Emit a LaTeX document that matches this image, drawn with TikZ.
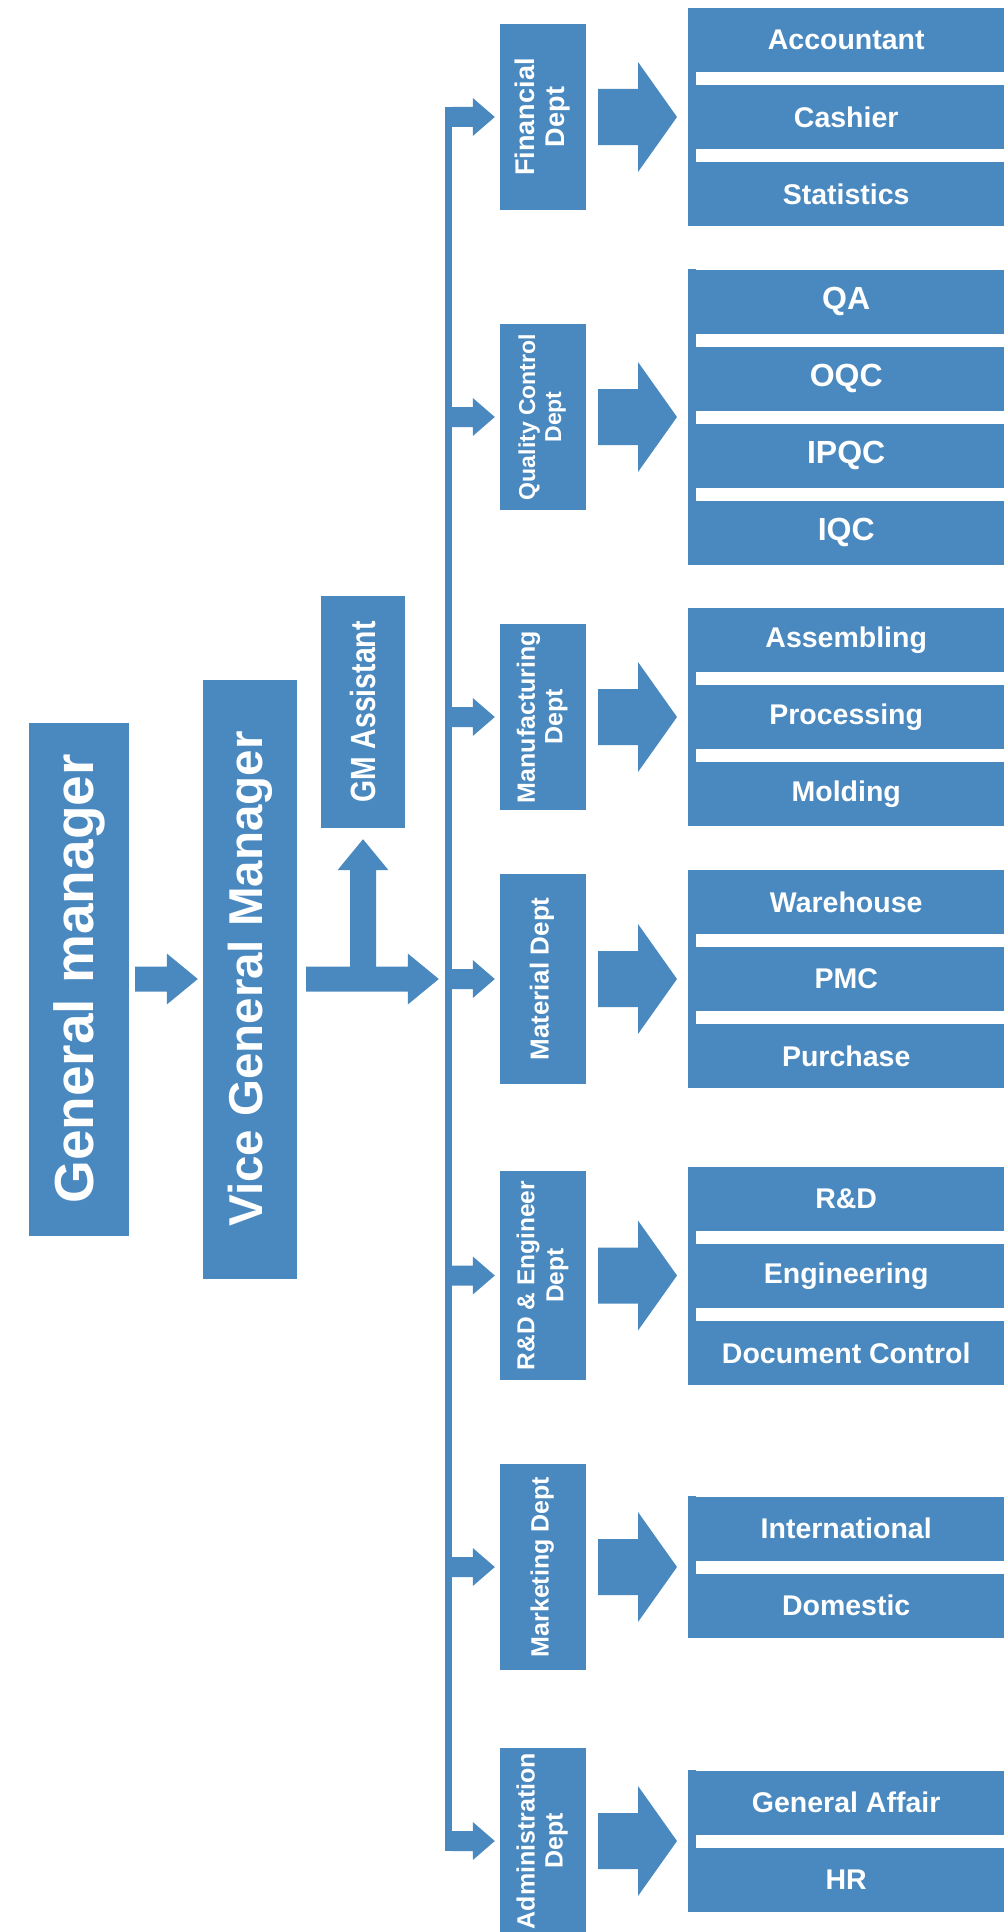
\documentclass[tikz,border=0pt]{standalone}
\usepackage{fontspec}
\setmainfont{Liberation Sans}
\usepackage{graphicx}
\usetikzlibrary{calc}
\definecolor{org}{RGB}{74,137,191}
\tikzset{
  blockbox/.style={fill=org, text=white, inner sep=0pt, font=\bfseries},
  deptbox/.style={blockbox, minimum width=86pt},
  subrow/.style={fill=org, text=white, inner sep=0pt, minimum width=316pt,
    minimum height=64pt, anchor=west, font=\bfseries\fontsize{28.5}{30}\selectfont},
  subrowbig/.style={subrow, font=\bfseries\fontsize{32}{34}\selectfont},
}
% horizontal block arrow: start, tip, shaft half width, head half width, head length
\newcommand\rarrow[5]{\fill[org] let \p1=#1, \p2=#2 in
  (\x1,\y2+#3pt) -- (\x2-#5pt,\y2+#3pt) -- (\x2-#5pt,\y2+#4pt) -- (\x2,\y2)
  -- (\x2-#5pt,\y2-#4pt) -- (\x2-#5pt,\y2-#3pt) -- (\x1,\y2-#3pt) -- cycle;}
% vertical (upward) block arrow
\newcommand\uarrow[5]{\fill[org] let \p1=#1, \p2=#2 in
  (\x2-#3pt,\y1) -- (\x2-#3pt,\y2-#5pt) -- (\x2-#4pt,\y2-#5pt) -- (\x2,\y2)
  -- (\x2+#4pt,\y2-#5pt) -- (\x2+#3pt,\y2-#5pt) -- (\x2+#3pt,\y1) -- cycle;}
\newcommand\vlabel[1]{\rotatebox{90}{\begin{tabular}{@{}c@{}}#1\end{tabular}}}
\begin{document}
\begin{tikzpicture}[x=1pt,y=-1pt]
\useasboundingbox (0,0) rectangle (1004,1932);

% top level
\node[blockbox, minimum width=100pt, minimum height=513pt] (gm) at (79,979)
  {\fontsize{55}{60}\selectfont\rotatebox{90}{General manager}};
\node[blockbox, minimum width=94pt, minimum height=599pt] (vgm) at (250,979)
  {\fontsize{47.5}{52}\selectfont\rotatebox{90}{Vice General Manager}};
\node[blockbox, minimum width=84pt, minimum height=232pt] (gma) at (363,712)
  {\fontsize{35}{38}\selectfont\rotatebox{90}{\scalebox{0.81}[1]{GM Assistant}}};

% bus
\node[fill=org, inner sep=0pt, minimum width=7pt, minimum height=1744pt] (bus) at (448.5,979) {};

% departments
\node[deptbox, minimum height=186pt] (fin) at (543,117)
  {\fontsize{27}{30}\selectfont\vlabel{Financial\\Dept}};
\node[deptbox, minimum height=186pt] (qc) at (543,417)
  {\fontsize{23}{26}\selectfont\vlabel{Quality Control\\Dept}};
\node[deptbox, minimum height=186pt] (mfg) at (543,717)
  {\fontsize{25}{27.5}\selectfont\vlabel{Manufacturing\\Dept}};
\node[deptbox, minimum height=210pt] (mat) at (543,979)
  {\fontsize{26}{28}\selectfont\vlabel{Material Dept}};
\node[deptbox, minimum height=209pt] (rnd) at (543,1275.5)
  {\fontsize{24.5}{29}\selectfont\vlabel{R\&D \& Engineer\\Dept}};
\node[deptbox, minimum height=206pt] (mkt) at (543,1567)
  {\fontsize{25}{28}\selectfont\vlabel{Marketing Dept}};
\node[deptbox, minimum height=186pt] (adm) at (543,1841)
  {\fontsize{25}{28}\selectfont\vlabel{Administration\\Dept}};

% sub units
\node[subrow] (fin1) at (688,40) {Accountant};
\node[subrow] (fin2) at (688,117) {Cashier};
\node[subrow] (fin3) at (688,194) {Statistics};

\node[subrowbig] (qc1) at (688,301.5) {QA};
\node[subrowbig] (qc2) at (688,378.5) {OQC};
\node[subrowbig] (qc3) at (688,455.5) {IPQC};
\node[subrowbig] (qc4) at (688,532.5) {IQC};

\node[subrow] (mfg1) at (688,640) {Assembling};
\node[subrow] (mfg2) at (688,717) {Processing};
\node[subrow] (mfg3) at (688,794) {Molding};

\node[subrow] (mat1) at (688,902) {Warehouse};
\node[subrow] (mat2) at (688,979) {PMC};
\node[subrow] (mat3) at (688,1056) {Purchase};

\node[subrow] (rnd1) at (688,1199) {R\&D};
\node[subrow] (rnd2) at (688,1276) {Engineering};
\node[subrow] (rnd3) at (688,1353) {Document Control};

\node[subrow] (mkt1) at (688,1528.5) {International};
\node[subrow] (mkt2) at (688,1605.5) {Domestic};

\node[subrow] (adm1) at (688,1802.5) {General Affair};
\node[subrow] (adm2) at (688,1879.5) {HR};

% left spines joining the rows of each group
\foreach \a/\b in {fin1/fin3, qc1/qc4, mfg1/mfg3, mat1/mat3, rnd1/rnd3, mkt1/mkt2, adm1/adm2}
  \fill[org] (\a.north west) rectangle ($(\b.south west)+(8,0)$);

% arrows
\rarrow{($(gm.east)+(6,0)$)}{($(vgm.west)+(-5,0)$)}{12.5}{25.5}{31}
\rarrow{($(vgm.east)+(9,0)$)}{($(bus.west)+(-6,0)$)}{12.5}{25.5}{31}
\uarrow{(gma.south |- vgm.east)}{($(gma.south)+(0,11)$)}{13}{25.5}{31}

\foreach \d/\s in {fin/fin2, qc/qc2, mfg/mfg2, mat/mat2, rnd/rnd2, mkt/mkt1, adm/adm1} {
  \rarrow{(bus.east |- \d.west)}{($(\d.west)+(-5,0)$)}{10}{19}{22}
  \rarrow{($(\d.east)+(12,0)$)}{($(\s.west |- \d.east)+(-11,0)$)}{28}{55}{39}
}
\end{tikzpicture}
\end{document}
